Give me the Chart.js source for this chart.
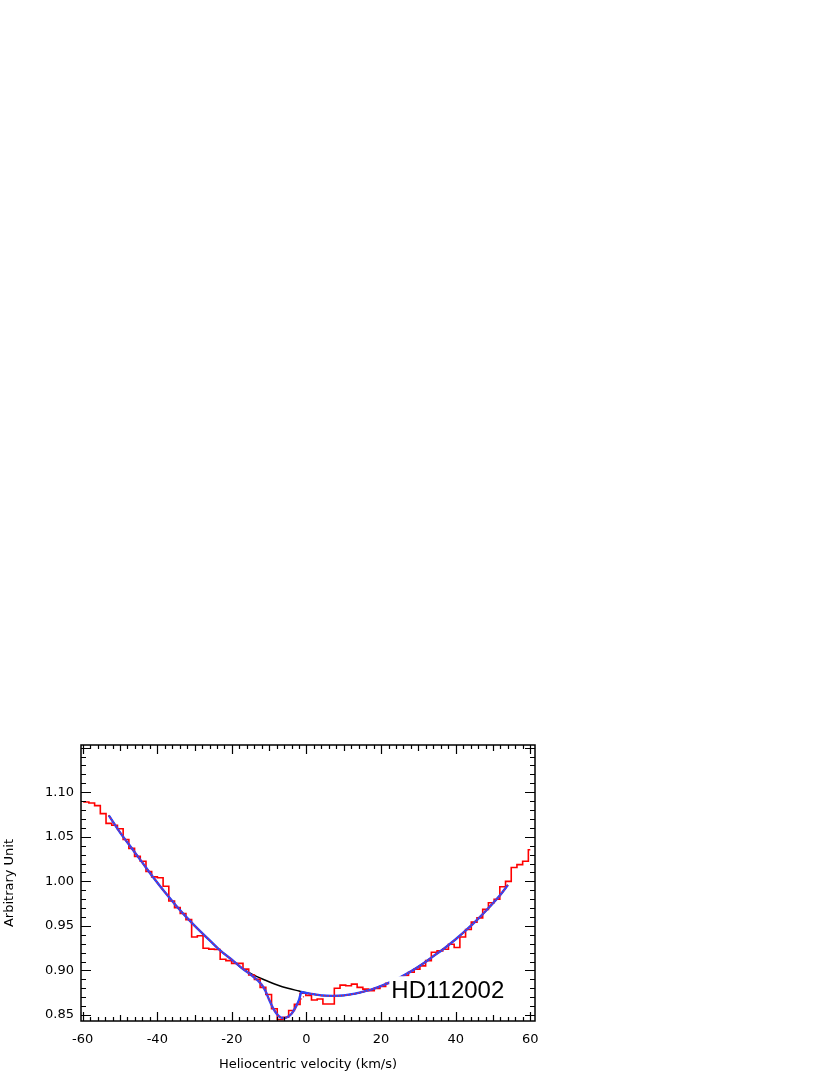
<!DOCTYPE html>
<html>
<head>
<meta charset="utf-8">
<script src="https://cdn.jsdelivr.net/npm/chart.js@4.4.1/dist/chart.umd.min.js"></script>
<style>
  html, body { margin: 0; padding: 0; background: #fff; }
  canvas { display: block; }
</style>
</head>
<body>
<canvas id="spec" width="830" height="1075"></canvas>
<script>
// observed spectrum: bin left edges (km/s), the last entry closes the final bin
const binEdges = [
  -59.86, -58.33, -56.80, -55.27, -53.74, -52.21, -50.68, -49.15, -47.62, -46.09,
  -44.56, -43.03, -41.50, -39.97, -38.44, -36.91, -35.38, -33.85, -32.32, -30.79,
  -29.26, -27.73, -26.20, -24.67, -23.14, -21.61, -20.08, -18.55, -17.02, -15.49,
  -13.96, -12.43, -10.90, -9.37, -7.84, -6.31, -4.78, -3.25, -1.72, -0.19,
  1.34, 2.87, 4.40, 5.93, 7.46, 8.99, 10.52, 12.05, 13.58, 15.11,
  16.64, 18.17, 19.70, 21.23, 22.76, 24.29, 25.82, 27.35, 28.88, 30.41,
  31.94, 33.47, 35.00, 36.53, 38.06, 39.59, 41.12, 42.65, 44.18, 45.71,
  47.24, 48.77, 50.30, 51.83, 53.36, 54.89, 56.42, 57.95, 59.48, 60.00
];
const obsFlux = [
  1.089, 1.088, 1.085, 1.076, 1.065, 1.063, 1.059, 1.047, 1.037, 1.028,
  1.0225, 1.011, 1.005, 1.004, 0.9945, 0.978, 0.9705, 0.964, 0.957, 0.9375,
  0.939, 0.925, 0.924, 0.9235, 0.9126, 0.911, 0.908, 0.908, 0.9015, 0.895,
  0.890, 0.881, 0.873, 0.857, 0.845, 0.8475, 0.855, 0.862, 0.8745, 0.872,
  0.8668, 0.868, 0.8624, 0.8624, 0.880, 0.8836, 0.8828, 0.8847, 0.881, 0.8791,
  0.8772, 0.8799, 0.882, 0.8855, 0.888, 0.891, 0.894, 0.898, 0.9015, 0.9052,
  0.911, 0.9205, 0.922, 0.9238, 0.9294, 0.9257, 0.9375, 0.946, 0.9543, 0.959,
  0.9685, 0.976, 0.980, 0.994, 1.000, 1.0155, 1.0188, 1.0225, 1.0355
];

// continuum (black)
const contVel = [-53, -50, -47, -44, -41, -38, -35, -32, -29, -26, -23, -20, -17, -14, -11, -8, -5, -2,
  1, 4, 7, 10, 13, 16, 19, 22, 25, 28, 31, 34, 37, 40, 43, 46, 49, 52, 54];
const contFlux = [1.074, 1.055, 1.038, 1.021, 1.004, 0.988, 0.973, 0.959, 0.946, 0.934, 0.922, 0.912,
  0.9015, 0.8945, 0.889, 0.884, 0.880, 0.877,
  0.874, 0.872, 0.8715, 0.872, 0.874, 0.877, 0.881, 0.886, 0.892, 0.899, 0.907, 0.916, 0.925, 0.935,
  0.946, 0.958, 0.971, 0.985, 0.996];

// model with absorption component (blue)
const modelVel = [-53, -50, -47, -44, -41, -38, -35, -32, -29, -26, -23, -20, -17, -15, -13, -12, -11,
  -10, -9, -8, -7, -6, -5, -4, -3, -2, -1.3, -0.6,
  1, 4, 7, 10, 13, 16, 19, 22, 25, 28, 31, 34, 37, 40, 43, 46, 49, 52, 54];
const modelFlux = [1.074, 1.055, 1.038, 1.021, 1.004, 0.988, 0.973, 0.959, 0.946, 0.934, 0.922, 0.912,
  0.9015, 0.8955, 0.8885, 0.884, 0.877,
  0.867, 0.858, 0.8515, 0.8475, 0.8465, 0.848, 0.8515, 0.858, 0.867, 0.876, 0.8752,
  0.874, 0.872, 0.8715, 0.872, 0.874, 0.877, 0.881, 0.886, 0.892, 0.899, 0.907, 0.916, 0.925, 0.935,
  0.946, 0.958, 0.971, 0.985, 0.996];

// smoothed fit (red dotted)
const fitVel = [-53, -50, -47, -44, -41, -38, -35, -32, -29, -26, -23, -20, -17, -15, -13, -12, -11,
  -10, -9, -8, -7, -6, -5, -4, -3, -2, -1, 0,
  1, 4, 7, 10, 13, 16, 19, 22, 25, 28, 31, 34, 37, 40, 43, 46, 49, 52, 54];
const fitFlux = [1.074, 1.055, 1.038, 1.021, 1.004, 0.988, 0.973, 0.959, 0.946, 0.934, 0.922, 0.912,
  0.9015, 0.8955, 0.8885, 0.884, 0.877,
  0.867, 0.858, 0.8515, 0.8475, 0.8465, 0.848, 0.8515, 0.857, 0.864, 0.8695, 0.8725,
  0.874, 0.872, 0.8715, 0.872, 0.874, 0.877, 0.881, 0.886, 0.892, 0.899, 0.907, 0.916, 0.925, 0.935,
  0.946, 0.958, 0.971, 0.985, 0.996];

const xTicks = [-60, -40, -20, 0, 20, 40, 60];
const yTicks = [0.85, 0.90, 0.95, 1.00, 1.05, 1.10];
const starName = 'HD112002';

const pairs = (xs, ys) => xs.map((v, i) => ({ x: v, y: ys[Math.min(i, ys.length - 1)] }));

const FONT = 'DejaVu Sans';

// inward ticks on all four sides, frame, axis titles and the star label
const framePlugin = {
  id: 'framePlugin',
  afterDatasetsDraw(chart) {
    const { ctx, scales: { x, y } } = chart;
    const left = x.getPixelForValue(22.2);
    const top = y.getPixelForValue(0.8935);
    ctx.save();
    ctx.fillStyle = '#fff';
    ctx.fillRect(left, top, 122, 26);
    ctx.fillStyle = '#000';
    ctx.font = '24px "Liberation Sans"';
    ctx.textBaseline = 'alphabetic';
    ctx.fillText(starName, left + 2, top + 21.5);
    ctx.restore();
  },
  afterDraw(chart) {
    const { ctx, chartArea: a, scales: { x, y } } = chart;
    ctx.save();
    ctx.strokeStyle = '#000';
    ctx.lineWidth = 1.2;
    ctx.beginPath();
    for (let v = -60; v <= 60; v += 2) {
      const px = Math.round(x.getPixelForValue(v)) + 0.5;
      const len = v % 20 === 0 ? 9 : (v % 10 === 0 ? 6 : 4);
      ctx.moveTo(px, a.bottom); ctx.lineTo(px, a.bottom - len);
      ctx.moveTo(px, a.top); ctx.lineTo(px, a.top + len);
    }
    for (let i = 85; i <= 115; i++) {
      const py = Math.round(y.getPixelForValue(i / 100)) + 0.5;
      const len = i % 5 === 0 ? 10 : 5;
      ctx.moveTo(a.left, py); ctx.lineTo(a.left + len, py);
      ctx.moveTo(a.right, py); ctx.lineTo(a.right - len, py);
    }
    ctx.stroke();
    ctx.lineWidth = 1.5;
    ctx.strokeRect(a.left, a.top, a.right - a.left, a.bottom - a.top);

    ctx.fillStyle = '#000';
    ctx.font = '13px "' + FONT + '"';
    ctx.textAlign = 'center';
    ctx.textBaseline = 'middle';
    ctx.fillText('Heliocentric velocity (km/s)', (a.left + a.right) / 2, 1065);
    ctx.translate(10, (a.top + a.bottom) / 2);
    ctx.rotate(-Math.PI / 2);
    ctx.fillText('Arbitrary Unit', 0, 0);
    ctx.restore();
  }
};

new Chart(document.getElementById('spec'), {
  type: 'line',
  data: {
    datasets: [
      {
        label: 'fit',
        data: pairs(fitVel, fitFlux),
        borderColor: '#ff2020',
        borderWidth: 1.2,
        borderDash: [1, 2],
        cubicInterpolationMode: 'monotone',
        pointRadius: 0
      },
      {
        label: 'model',
        data: pairs(modelVel, modelFlux),
        borderColor: '#2a44ff',
        borderWidth: 2.4,
        cubicInterpolationMode: 'monotone',
        pointRadius: 0
      },
      {
        label: 'observed',
        data: pairs(binEdges, obsFlux),
        borderColor: '#ff0000',
        borderWidth: 1.6,
        stepped: true,
        pointRadius: 0
      },
      {
        label: 'continuum',
        data: pairs(contVel, contFlux),
        borderColor: '#000000',
        borderWidth: 1.5,
        cubicInterpolationMode: 'monotone',
        pointRadius: 0
      }
    ]
  },
  options: {
    responsive: false,
    animation: false,
    events: [],
    layout: { padding: { left: 0, top: 745, right: 295, bottom: 0 } },
    plugins: { legend: { display: false }, tooltip: { enabled: false } },
    scales: {
      x: {
        type: 'linear',
        min: -60.45,
        max: 61.26,
        afterFit(scale) { scale.height = 54; },
        afterBuildTicks(scale) { scale.ticks = xTicks.map(v => ({ value: v })); },
        grid: { display: false, drawTicks: false },
        border: { display: false },
        ticks: {
          autoSkip: false,
          maxRotation: 0,
          padding: 11,
          color: '#000',
          font: { family: FONT, size: 13 },
          callback: v => String(v)
        }
      },
      y: {
        type: 'linear',
        min: 0.8433,
        max: 1.153,
        afterFit(scale) { scale.width = 81; },
        afterBuildTicks(scale) { scale.ticks = yTicks.map(v => ({ value: v })); },
        grid: { display: false, drawTicks: false },
        border: { display: false },
        ticks: {
          padding: 7,
          color: '#000',
          font: { family: FONT, size: 13 },
          callback: v => v.toFixed(2)
        }
      }
    }
  },
  plugins: [framePlugin]
});
</script>
</body>
</html>
